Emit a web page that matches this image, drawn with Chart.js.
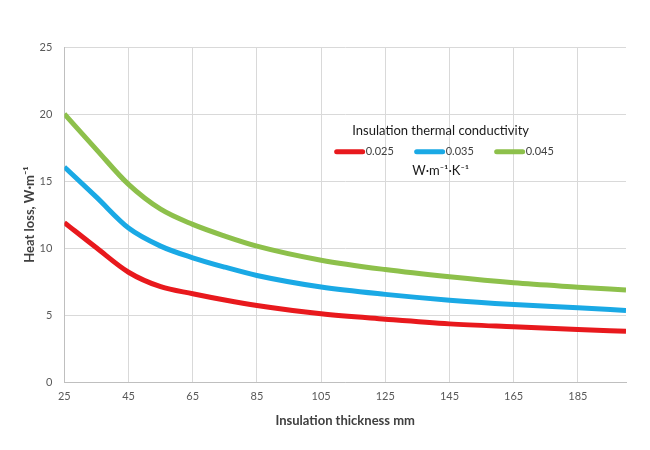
<!DOCTYPE html>
<html>
<head>
  <title>Heat loss vs insulation thickness</title>
  <meta charset="UTF-8">
  <script src="https://cdn.jsdelivr.net/npm/chart.js"></script>
  <style>
    body { margin: 0; background: #fff; }
  </style>
</head>
<body>
  <canvas id="heatChart" width="650" height="450"></canvas>

  <script>
    // Values
    const thickness = [25, 35, 45, 55, 65, 75, 85, 105, 125, 145, 165, 185, 200];
    const loss025 = [11.9, 10.02, 8.2, 7.12, 6.6, 6.13, 5.72, 5.1, 4.7, 4.35, 4.13, 3.93, 3.8];
    const loss035 = [16.05, 13.8, 11.5, 10.15, 9.28, 8.58, 7.96, 7.1, 6.55, 6.12, 5.8, 5.55, 5.35];
    const loss045 = [20.0, 17.35, 14.75, 12.9, 11.77, 10.9, 10.15, 9.1, 8.4, 7.86, 7.41, 7.09, 6.87];
    const seriesLabels = ['0.025', '0.035', '0.045'];
    const xTicks = [25, 45, 65, 85, 105, 125, 145, 165, 185];
    const legendTitle = 'Insulation thermal conductivity';
    const legendUnit = 'W·m⁻¹·K⁻¹';

    const colors = ['#e8191d', '#1aa9e5', '#8dc04b'];
    const fontFamily = 'Lato, "Open Sans", sans-serif';

    function toPoints(ys) {
      return thickness.map((x, i) => ({ x: x, y: ys[i] }));
    }

    // Legend drawn inside the plot, like the original
    const insideLegend = {
      id: 'insideLegend',
      afterDraw(chart) {
        const ctx = chart.ctx;
        const area = chart.chartArea;
        const cx = area.left + (area.right - area.left) * 0.67;
        const top = area.top + (area.bottom - area.top) * 0.25;
        ctx.save();
        ctx.fillStyle = '#1a1a1a';
        ctx.textAlign = 'center';
        ctx.textBaseline = 'middle';
        ctx.font = '13px ' + fontFamily;
        ctx.fillText(legendTitle, cx, top);
        ctx.fillText(legendUnit, cx, top + 40);

        ctx.font = '11px ' + fontFamily;
        ctx.textAlign = 'left';
        const itemW = 80;
        const startX = cx - itemW * 1.3;
        chart.data.datasets.forEach((ds, i) => {
          const x0 = startX + i * itemW;
          const y0 = top + 21;
          ctx.strokeStyle = ds.borderColor;
          ctx.lineWidth = 5;
          ctx.lineCap = 'round';
          ctx.beginPath();
          ctx.moveTo(x0, y0);
          ctx.lineTo(x0 + 26, y0);
          ctx.stroke();
          ctx.fillStyle = '#404040';
          ctx.fillText(ds.label, x0 + 29, y0);
        });
        ctx.restore();
      }
    };

    const ctx = document.getElementById('heatChart').getContext('2d');
    new Chart(ctx, {
      type: 'line',
      data: {
        datasets: [
          { label: seriesLabels[0], data: toPoints(loss025), borderColor: colors[0] },
          { label: seriesLabels[1], data: toPoints(loss035), borderColor: colors[1] },
          { label: seriesLabels[2], data: toPoints(loss045), borderColor: colors[2] }
        ]
      },
      options: {
        responsive: false,
        animation: false,
        layout: { padding: { left: 22, right: 24, top: 47, bottom: 21 } },
        elements: {
          line: { borderWidth: 5, cubicInterpolationMode: 'monotone', fill: false },
          point: { radius: 0 }
        },
        plugins: {
          legend: { display: false },
          tooltip: { enabled: false }
        },
        scales: {
          x: {
            type: 'linear',
            min: 25,
            max: 200,
            afterBuildTicks: axis => { axis.ticks = xTicks.map(v => ({ value: v })); },
            grid: { color: '#d9d9d9', drawTicks: false },
            border: { color: '#bfbfbf' },
            ticks: { color: '#595959', font: { family: fontFamily, size: 11 }, padding: 8 },
            title: {
              display: true,
              text: 'Insulation thickness mm',
              color: '#404040',
              font: { family: fontFamily, size: 13, weight: 'bold' },
              padding: { top: 2, bottom: 0 }
            }
          },
          y: {
            min: 0,
            max: 25,
            afterFit: axis => { axis.width -= 10; },
            ticks: { stepSize: 5, color: '#595959', font: { family: fontFamily, size: 11 }, padding: 12 },
            grid: { color: '#d9d9d9', drawTicks: false },
            border: { color: '#bfbfbf' },
            title: {
              display: true,
              text: 'Heat loss, W·m⁻¹',
              color: '#404040',
              font: { family: fontFamily, size: 13, weight: 'bold' },
              padding: { top: 0, bottom: 0 }
            }
          }
        }
      },
      plugins: [insideLegend]
    });
  </script>
</body>
</html>
